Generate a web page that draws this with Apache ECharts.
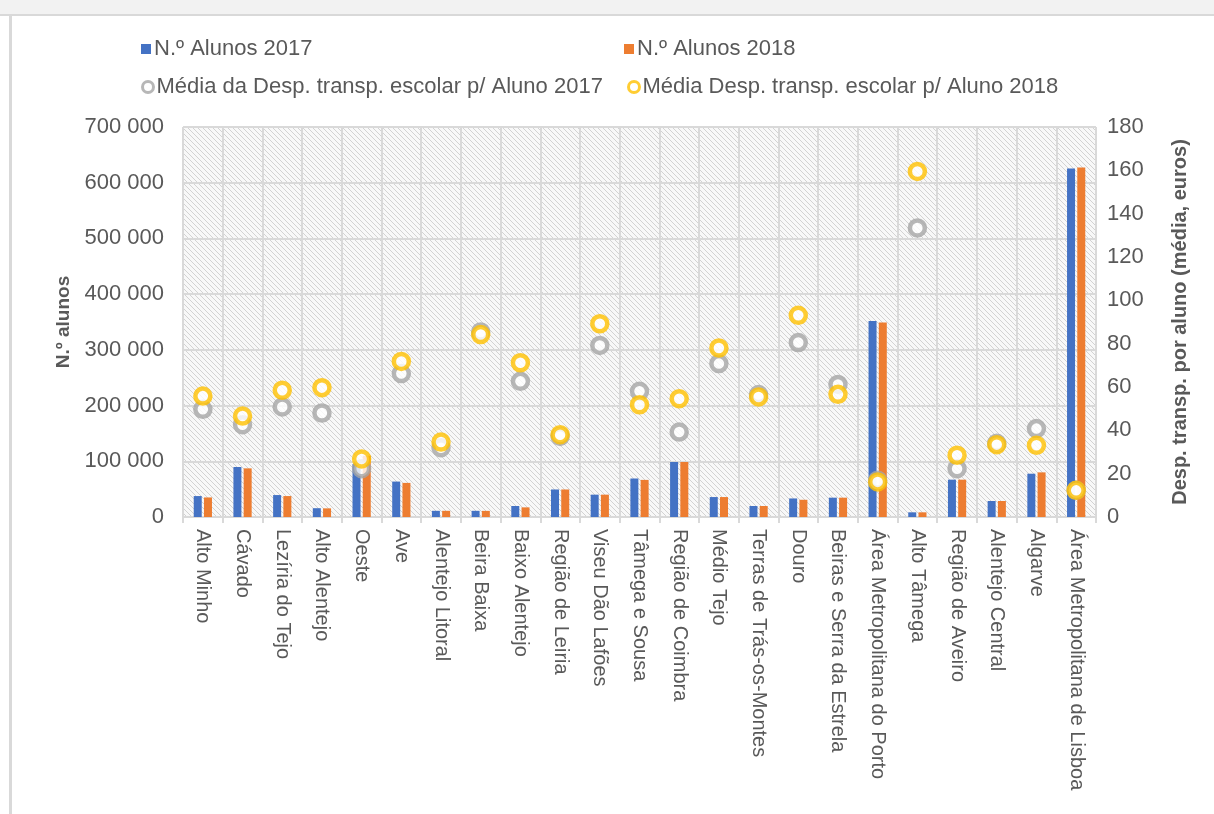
<!DOCTYPE html>
<html>
<head>
<meta charset="utf-8">
<script src="https://cdn.jsdelivr.net/npm/echarts@6/dist/echarts.min.js"></script>
<style>
html,body{margin:0;padding:0;background:#fff;}
#main{width:1214px;height:814px;}
</style>
</head>
<body>
<div id="main"></div>
<script>
const categories = ["Alto Minho","Cávado","Lezíria do Tejo","Alto Alentejo","Oeste","Ave","Alentejo Litoral","Beira Baixa","Baixo Alentejo","Região de Leiria","Viseu Dão Lafões","Tâmega e Sousa","Região de Coimbra","Médio Tejo","Terras de Trás-os-Montes","Douro","Beiras e Serra da Estrela","Área Metropolitana do Porto","Alto Tâmega","Região de Aveiro","Alentejo Central","Algarve","Área Metropolitana de Lisboa"];
const alunos2017 = [37600,89700,39400,15800,95000,63600,11100,11100,19700,49400,40100,69100,98700,35800,19700,33300,34700,351600,8400,67000,28700,77700,625500];
const alunos2018 = [35100,87300,37600,15500,110000,61200,11100,11000,17300,49400,40100,66600,98700,35800,19700,30900,34700,349200,8400,67000,28700,80100,627300];
const desp2017 = [49.7,42.6,50.8,48.0,22.3,66.2,32.0,85.4,62.6,37.2,79.2,58.0,39.2,70.8,56.5,80.5,61.2,17.0,133.4,22.3,34.0,40.8,12.3];
const desp2018 = [55.8,46.6,58.5,59.7,26.8,71.8,34.6,84.2,71.2,38.0,89.2,51.8,54.6,78.0,55.4,93.1,56.6,16.2,159.5,28.5,33.4,33.1,12.3];
const leftTicks = {min:0, max:700000, interval:100000};
const rightTicks = {min:0, max:180, interval:20};
const seriesNames = ["N.º Alunos 2017","N.º Alunos 2018","Média da Desp. transp. escolar p/ Aluno 2017","Média Desp. transp. escolar p/ Aluno 2018"];

const FONT = '"Liberation Sans", Arial, sans-serif';
const TXT = '#595959';

// hatch pattern
const tile = document.createElement('canvas');
tile.width = 5; tile.height = 5;
const c = tile.getContext('2d');
c.fillStyle = '#f8f8f8'; c.fillRect(0,0,5,5);
c.strokeStyle = '#d2d2d2'; c.lineWidth = 1;
c.beginPath();
c.moveTo(-1,-1); c.lineTo(6,6);
c.moveTo(-6,-1); c.lineTo(1,6);
c.moveTo(4,-1); c.lineTo(11,6);
c.stroke();

function fmt(v){ return String(v).replace(/\B(?=(\d{3})+(?!\d))/g, ' '); }

const chart = echarts.init(document.getElementById('main'), null, {renderer:'canvas'});
const legendBase = {
  orient:'horizontal', itemGap: 0,
  textStyle:{fontFamily:FONT, fontSize:22, color:TXT, padding:[0,0,0,-2]},
  selectedMode:false
};
chart.setOption({
  backgroundColor:'#ffffff',
  animation:false,
  graphic:[
    {type:'rect', shape:{x:0,y:0,width:1214,height:14}, style:{fill:'#f2f2f2'}, z:0},
    {type:'rect', shape:{x:0,y:14,width:1214,height:2}, style:{fill:'#d9d9d9'}, z:0},
    {type:'rect', shape:{x:9,y:15,width:3,height:799}, style:{fill:'#d9d9d9'}, z:0}
  ],
  legend:[
    Object.assign({}, legendBase, {data:[{name:seriesNames[0], icon:'rect'}], left:136, top:33, itemWidth:10, itemHeight:10}),
    Object.assign({}, legendBase, {data:[{name:seriesNames[1], icon:'rect'}], left:619, top:33, itemWidth:10, itemHeight:10}),
    Object.assign({}, legendBase, {data:[{name:seriesNames[2], icon:'circle', itemStyle:{color:'#ffffff', borderColor:'#A5A5A5', borderWidth:3}}], left:136, top:71, itemWidth:11, itemHeight:11}),
    Object.assign({}, legendBase, {data:[{name:seriesNames[3], icon:'circle', itemStyle:{color:'#ffffff', borderColor:'#FFC000', borderWidth:3}}], left:622, top:71, itemWidth:11, itemHeight:11})
  ],
  grid:{left:183, right:118, top:127, bottom:297, show:true, borderWidth:0,
        backgroundColor:{image:tile, repeat:'repeat'}},
  xAxis:{
    type:'category', data:categories, boundaryGap:true,
    axisLine:{show:true, lineStyle:{color:'#d9d9d9', width:2}},
    axisTick:{show:true, length:6, lineStyle:{color:'#d9d9d9', width:2}},
    splitLine:{show:true, interval:0, lineStyle:{color:'#d9d9d9', width:2}},
    axisLabel:{rotate:-90, interval:0, margin:12, fontFamily:FONT, fontSize:20, color:TXT}
  },
  yAxis:[
    {type:'value', min:leftTicks.min, max:leftTicks.max, interval:leftTicks.interval,
     name:'N.º alunos', nameLocation:'middle', nameGap:110, nameRotate:90,
     nameTextStyle:{fontFamily:FONT, fontSize:19, fontWeight:'bold', color:TXT},
     axisLine:{show:false}, axisTick:{show:false},
     splitLine:{show:true, lineStyle:{color:'#d9d9d9', width:2}},
     axisLabel:{formatter:fmt, margin:19, fontFamily:FONT, fontSize:22, color:TXT}},
    {type:'value', min:rightTicks.min, max:rightTicks.max, interval:rightTicks.interval,
     name:'Desp. transp. por aluno (média, euros)', nameLocation:'middle', nameGap:74, nameRotate:90,
     nameTextStyle:{fontFamily:FONT, fontSize:20, fontWeight:'bold', color:TXT},
     axisLine:{show:false}, axisTick:{show:false}, splitLine:{show:false},
     axisLabel:{margin:11, fontFamily:FONT, fontSize:22, color:TXT}}
  ],
  series:[
    {name:seriesNames[0], type:'bar', yAxisIndex:0, data:alunos2017, barWidth:8, barGap:'28%',
     itemStyle:{color:'#4472C4'}},
    {name:seriesNames[1], type:'bar', yAxisIndex:0, data:alunos2018, barWidth:8, barGap:'28%',
     itemStyle:{color:'#ED7D31'}},
    {name:seriesNames[2], type:'scatter', yAxisIndex:1, data:desp2017, symbol:'circle', symbolSize:15,
     itemStyle:{color:'#ffffff', borderColor:'#A5A5A5', borderWidth:4.5}, z:3},
    {name:seriesNames[3], type:'scatter', yAxisIndex:1, data:desp2018, symbol:'circle', symbolSize:15,
     itemStyle:{color:'#ffffff', borderColor:'#FFC000', borderWidth:4.5}, z:4}
  ]
});
</script>
</body>
</html>
